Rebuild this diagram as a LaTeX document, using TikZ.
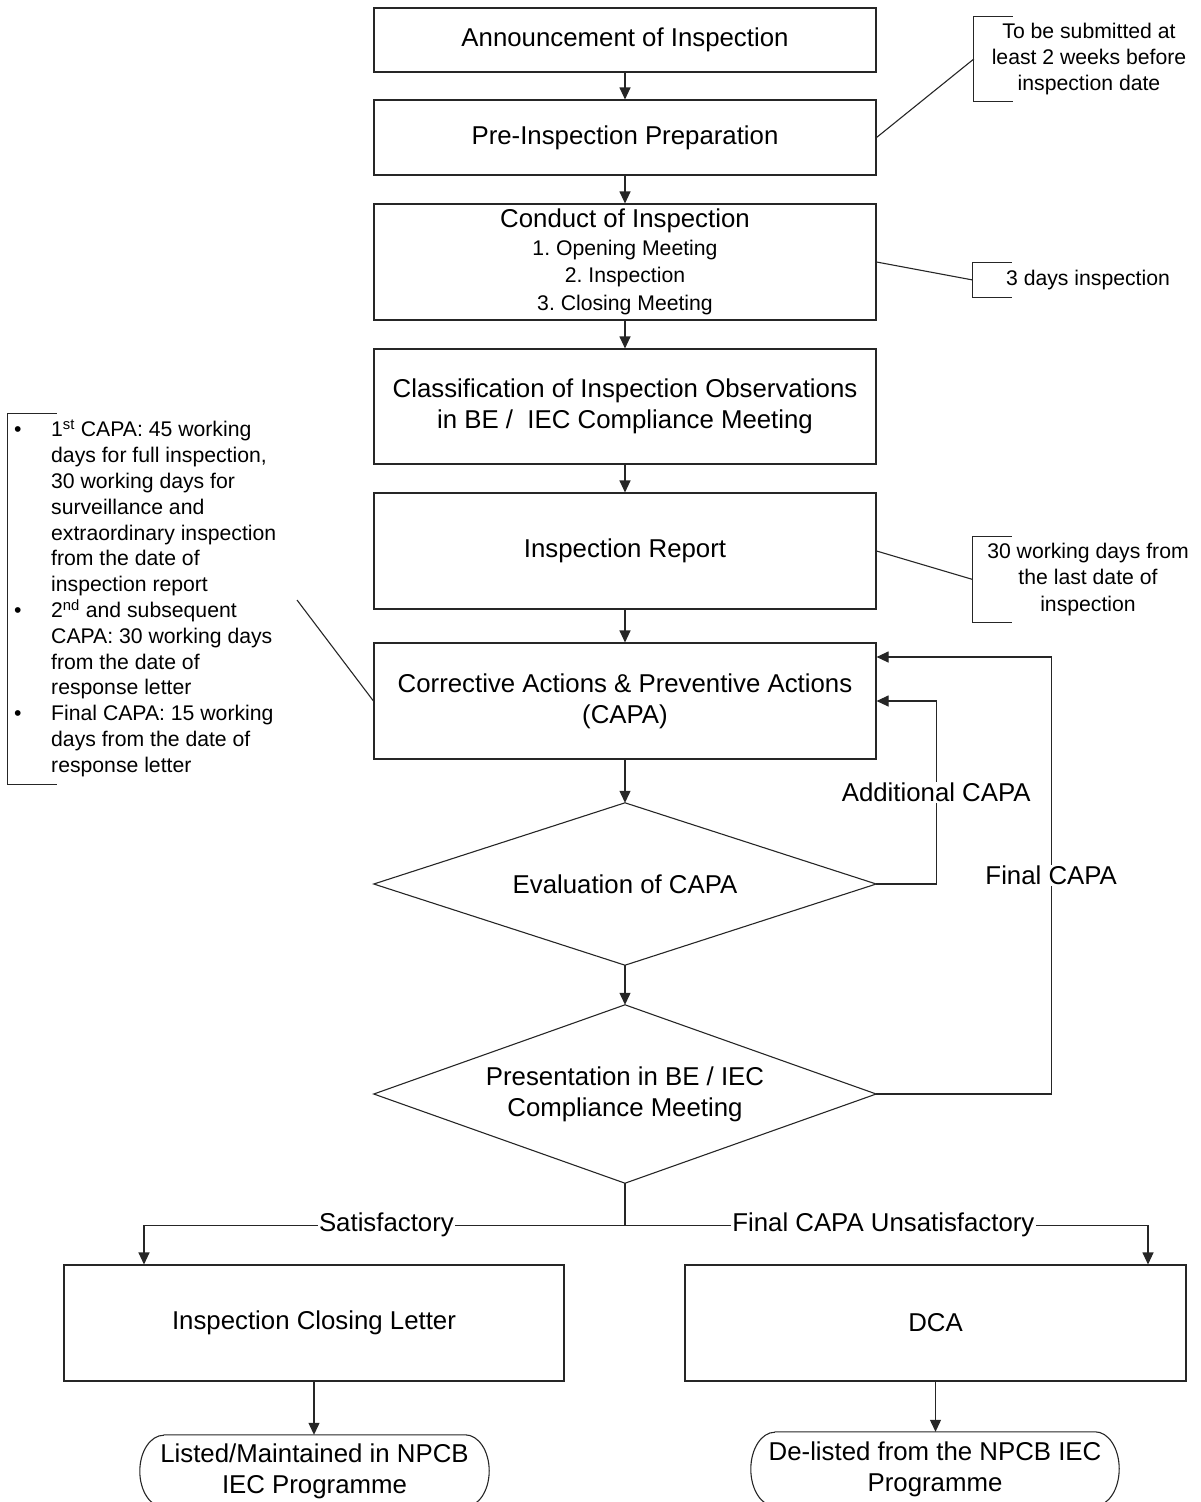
\documentclass[tikz,border=0pt]{standalone}
\usepackage{fontspec}
\setmainfont{Liberation Sans}
\usetikzlibrary{arrows.meta}
\newcommand\fsmain{\fontsize{25.8}{30.8}\selectfont}
\newcommand\fssmall{\fontsize{21.2}{25.8}\selectfont}
\newcommand\fsnote{\fontsize{21.2}{26.4}\selectfont}
\frenchspacing
\begin{document}
\frenchspacing
\begin{tikzpicture}[x=1pt,y=-1pt,
  box/.style={draw=black!85, line width=1.1pt, minimum width=502pt, inner sep=0pt, align=center, font=\fsmain},
  plain/.style={inner sep=0pt, align=center, font=\fsmain},
  arr/.style={draw=black!85, line width=1.1pt, -{Triangle[length=12pt,width=11pt]}},
  ln/.style={draw=black!85, line width=1.1pt},
  lbl/.style={fill=white, inner sep=1.5pt, font=\fsmain},
  note/.style={minimum width=230pt, inner sep=0pt, align=center, font=\fsnote}]
\useasboundingbox (0,0) rectangle (1201,1502);
\clip (0,0) rectangle (1201,1502);

% main chain
\node[box, minimum height=64pt] (ann) at (625,40) {Announcement of Inspection};
\node[box, minimum height=75pt] (pre) at (625,137.5) {Pre-Inspection Preparation};
\node[box, minimum height=116pt, font=\fontsize{21.2}{27.6}\selectfont] (con) at (625,262)
  {{\fsmain Conduct of Inspection}\\1. Opening Meeting\\2. Inspection\\3. Closing Meeting};
\node[box, minimum height=115pt] (cls) at (625,406.5) {Classification of Inspection Observations\\in BE / \ IEC Compliance Meeting};
\node[box, minimum height=116pt] (rep) at (625,551) {Inspection Report};
\node[box, minimum height=116pt] (capa) at (625,701) {Corrective Actions \& Preventive Actions\\(CAPA)};

\node[plain, minimum width=502pt, minimum height=162pt] (eval) at (625,884) {Evaluation of CAPA};
\draw[ln] (eval.north) -- (eval.east) -- (eval.south) -- (eval.west) -- cycle;
\node[plain, minimum width=502pt, minimum height=178pt] (pres) at (625,1094) {Presentation in BE / IEC\\Compliance Meeting};
\draw[ln] (pres.north) -- (pres.east) -- (pres.south) -- (pres.west) -- cycle;

\node[box, minimum width=500pt, minimum height=116pt] (clo) at (314,1323) {Inspection Closing Letter};
\node[box, minimum width=501pt, minimum height=116pt] (dca) at (935.5,1323) {DCA};

% terminators
\node[plain, minimum width=349pt, minimum height=72pt] (t1) at (314.5,1471) {Listed/Maintained in NPCB\\IEC Programme};
\draw[ln] ([xshift=24pt]t1.north west) -- ([xshift=-24pt]t1.north east)
  arc[start angle=90, end angle=-90, x radius=24pt, y radius=36pt]
  -- ([xshift=24pt]t1.south west)
  arc[start angle=270, end angle=90, x radius=24pt, y radius=36pt];
\node[plain, minimum width=368pt, minimum height=74pt] (t2) at (935,1469) {De-listed from the NPCB IEC\\Programme};
\draw[ln] ([xshift=24pt]t2.north west) -- ([xshift=-24pt]t2.north east)
  arc[start angle=90, end angle=-90, x radius=24pt, y radius=37pt]
  -- ([xshift=24pt]t2.south west)
  arc[start angle=270, end angle=90, x radius=24pt, y radius=37pt];

% main arrows
\draw[arr] (ann) -- (pre);
\draw[arr] (pre) -- (con);
\draw[arr] (con) -- (cls);
\draw[arr] (cls) -- (rep);
\draw[arr] (rep) -- (capa);
\draw[arr] (capa.south) -- (eval.north);
\draw[arr] (eval.south) -- (pres.north);

% loops
\draw[arr] (eval.east) -- ++(60,0) |- node[lbl, pos=0.25] {Additional CAPA} (capa.east);
\draw[arr] (pres.east) -- ++(175,0) |- node[lbl, pos=0.25] {Final CAPA} ([yshift=44pt]capa.east);

% branches
\draw[ln] (pres.south) -- ++(0,42) coordinate (split);
\draw[arr] (split) -| node[lbl, pos=0.248] {Satisfactory} ([xshift=-170pt]clo.north);
\draw[arr] (split) -| node[lbl, pos=0.247] {Final CAPA Unsatisfactory} ([xshift=212.5pt]dca.north);
\draw[arr] (clo.south) -- (clo.south |- t1.north);
\draw[arr] (dca.south) -- (dca.south |- t2.north);

% annotations right
\node[note, minimum height=84pt] (n1) at (1089,59) {To be submitted at\\least 2 weeks before\\inspection date};
\draw[ln] ([xshift=39pt]n1.north west) -- (n1.north west) -- (n1.south west) -- ([xshift=39pt]n1.south west);
\draw[ln] (pre.east) -- (n1.west);

\node[note, minimum height=34pt] (n2) at (1088,280) {3 days inspection};
\draw[ln] ([xshift=39pt]n2.north west) -- (n2.north west) -- (n2.south west) -- ([xshift=39pt]n2.south west);
\draw[ln] (con.east) -- (n2.west);

\node[note, minimum height=85pt] (n3) at (1088,579.5) {30 working days from\\the last date of\\inspection};
\draw[ln] ([xshift=39pt]n3.north west) -- (n3.north west) -- (n3.south west) -- ([xshift=39pt]n3.south west);
\draw[ln] (rep.east) -- (n3.west);

% annotation left
\node[inner sep=0pt, minimum width=264pt, minimum height=370pt] (b4) at (140,599) {};
\draw[ln] ([xshift=49pt]b4.north west) -- (b4.north west) -- (b4.south west) -- ([xshift=49pt]b4.south west);
\node[inner sep=0pt, anchor=west, font=\fssmall] (n4) at (14,599.5) {%
\begin{tabular}{@{}p{37pt}@{}l@{}}
\textbullet & 1\smash{\textsuperscript{st}} CAPA: 45 working\\
 & days for full inspection,\\
 & 30 working days for\\
 & surveillance and\\
 & extraordinary inspection\\
 & from the date of\\
 & inspection report\\
\textbullet & 2\smash{\textsuperscript{nd}} and subsequent\\
 & CAPA: 30 working days\\
 & from the date of\\
 & response letter\\
\textbullet & Final CAPA: 15 working\\
 & days from the date of\\
 & response letter
\end{tabular}};
\coordinate (c4) at (297,600);
\draw[ln] (capa.west) -- (c4);
\end{tikzpicture}
\end{document}
